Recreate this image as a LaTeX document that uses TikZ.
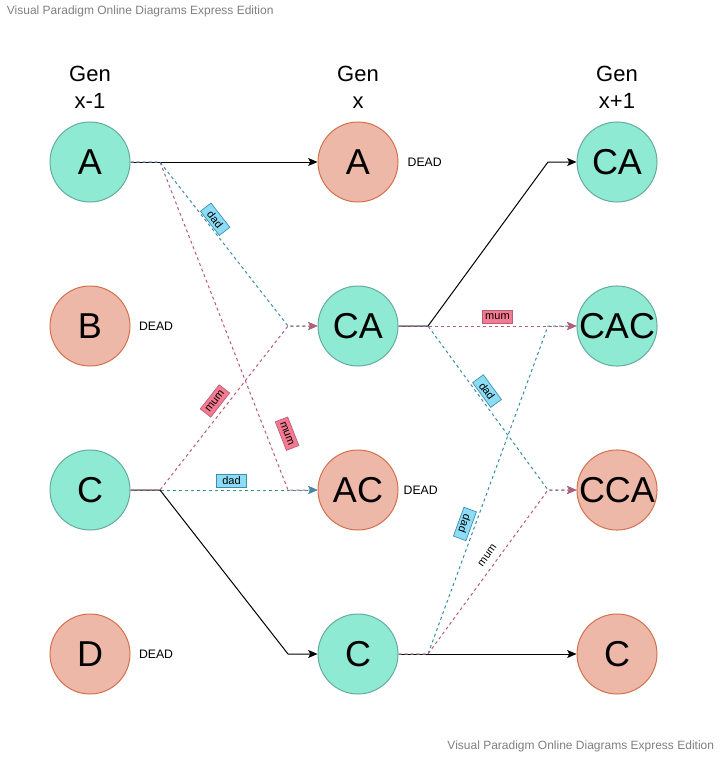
\documentclass[tikz,border=0pt]{standalone}
\usepackage{fontspec}
\setmainfont{Liberation Sans}
\usetikzlibrary{arrows.meta,positioning}
\definecolor{mint}{HTML}{8EEAD3}
\definecolor{mintline}{HTML}{67AB9F}
\definecolor{salmon}{HTML}{EDB8A8}
\definecolor{salmonline}{HTML}{D4704C}
\definecolor{dadblue}{HTML}{3A8DAB}
\definecolor{dadfill}{HTML}{8CDCF6}
\definecolor{mumpink}{HTML}{B85C77}
\definecolor{mumfill}{HTML}{F47A91}
\definecolor{stamp}{HTML}{7F7F7F}

\begin{document}
\begin{tikzpicture}[x=0.75pt, y=-0.75pt, >={Stealth[length=7pt, width=6pt, inset=1.5pt]}, line width=0.75pt]
\useasboundingbox (0,0) rectangle (720,757);

\tikzstyle{alive}=[circle, minimum size=60pt, inner sep=0pt, fill=mint, draw=mintline, font=\fontsize{27}{27}\selectfont]
\tikzstyle{dead}=[alive, fill=salmon, draw=salmonline]
\tikzstyle{gen}=[align=center, font=\fontsize{16.5}{20}\selectfont]
\tikzstyle{rip}=[inner sep=0pt, font=\fontsize{9.2}{10}\selectfont]
\tikzstyle{dadline}=[draw=dadblue, dash pattern=on 2.25pt off 2.25pt]
\tikzstyle{mumline}=[draw=mumpink, dash pattern=on 2.25pt off 2.25pt]
\tikzstyle{tag}=[solid, line width=0.5pt, inner sep=0.5pt, minimum width=23pt, minimum height=10pt, font=\fontsize{8.25}{9}\selectfont]
\tikzstyle{dadtag}=[tag, fill=dadfill, draw=dadblue]
\tikzstyle{mumtag}=[tag, fill=mumfill, draw=mumpink]

% generations
\draw (90,87) node[gen] (g1) {Gen\\x-1}
      (358,87) node[gen] (g2) {Gen\\x}
      (617,87) node[gen] (g3) {Gen\\x+1};

\draw (90,162) node[alive] (a1) {A}
      (90,326) node[dead] (b1) {B}
      (90,490) node[alive] (c1) {C}
      (90,654) node[dead] (d1) {D};

\draw (358,162) node[dead] (a2) {A}
      (358,326) node[alive] (ca2) {CA}
      (358,490) node[dead] (ac2) {AC}
      (358,654) node[alive] (c2) {C};

\draw (617,162) node[alive] (ca3) {CA}
      (617,326) node[alive] (cac3) {CAC}
      (617,490) node[dead] (cca3) {CCA}
      (617,654) node[dead] (c3) {C};

\node[rip, right=6pt of b1] (db1) {DEAD};
\node[rip, right=6.5pt of a2] (da2) {DEAD};
\node[rip, right=3.5pt of ac2] (dac2) {DEAD};
\node[rip, right=6pt of d1] (dd1) {DEAD};

% bends
\coordinate (ja1) at (160,162);
\coordinate (jc1) at (160,490);
\coordinate (inca2) at (288,326);
\coordinate (inac2) at (288,490);
\coordinate (inc2) at (288,654);
\coordinate (jca2) at (428,326);
\coordinate (jc2) at (428,654);
\coordinate (inca3) at (548,162);
\coordinate (incac3) at (548,326);
\coordinate (incca3) at (548,490);

% survivors
\draw[->] (a1) -- (a2);
\draw[->] (c1) -- (jc1) -- (inc2) -- (c2);
\draw[->] (ca2) -- (jca2) -- (inca3) -- (ca3);
\draw[->] (c2) -- (c3);

% parents
\draw[mumline, ->] (a1.east) -- (ja1) -- node[mumtag, sloped, pos=0.85, yshift=14.7pt] {mum} (inac2) -- (ac2);
\draw[dadline, ->] (a1.east) -- (ja1) -- node[dadtag, sloped, pos=0.38, yshift=6.2pt] {dad} (inca2) -- (ca2);
\draw[dadline, ->] (c1) -- node[dadtag, above=1.5pt, pos=0.54] {dad} (ac2);
\draw[mumline, ->] (c1.east) -- (jc1) -- node[mumtag, sloped, pos=0.5, yshift=8.6pt] {mum} (inca2) -- (ca2);

\draw[dadline, ->] (ca2.east) -- (jca2) -- node[dadtag, sloped, pos=0.43, yshift=6.9pt] {dad} (incca3) -- (cca3);
\draw[dadline, ->] (c2.east) -- (jc2) -- node[dadtag, sloped, rotate=180, pos=0.386, yshift=-7.5pt] {dad} (incac3) -- (cac3);
\draw[mumline, ->] (ca2) -- node[mumtag, above=1.5pt, pos=0.556] {mum} (cac3);
\draw[mumline, ->] (c2.east) -- (jc2) -- node[solid, sloped, pos=0.564, yshift=7.6pt, font=\fontsize{8.25}{9}\selectfont] {mum} (incca3) -- (cca3);

% watermarks
\node[anchor=west, text=stamp, font=\fontsize{9}{10}\selectfont] (wm1) at (2,11) {Visual Paradigm Online Diagrams Express Edition};
\node[anchor=east, text=stamp, font=\fontsize{9}{10}\selectfont] (wm2) at (719,746) {Visual Paradigm Online Diagrams Express Edition};

\end{tikzpicture}
\end{document}
